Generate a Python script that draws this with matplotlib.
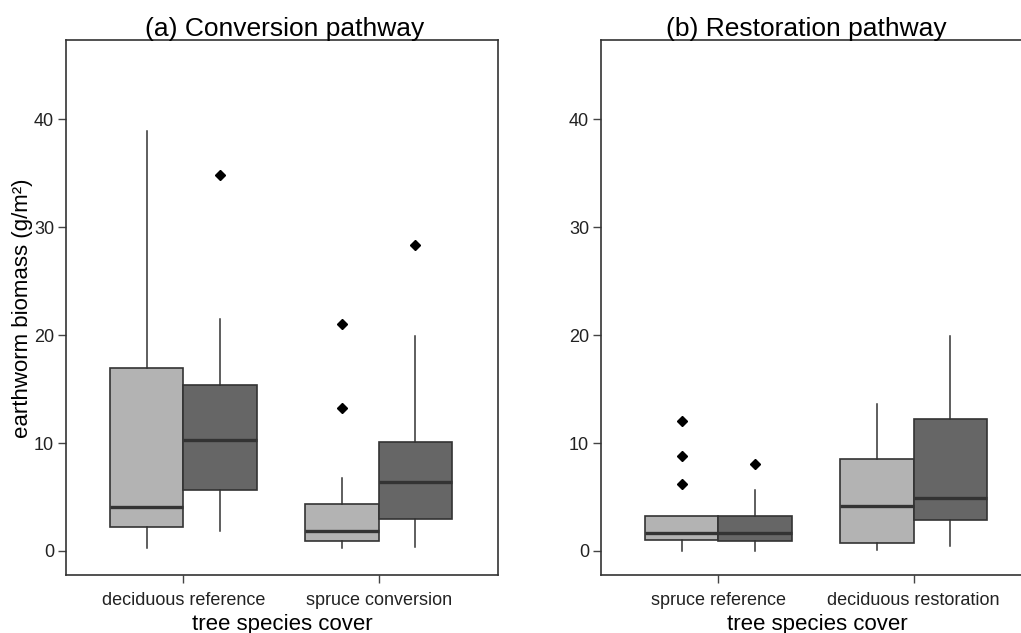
import matplotlib
matplotlib.use("Agg")
import matplotlib.pyplot as plt

plt.rcParams['font.family'] = ['Liberation Sans', 'DejaVu Sans']

# box statistics, order per panel: group1 light, group1 dark, group2 light, group2 dark
a_groups = ["deciduous reference", "spruce conversion"]
a_low = [0.3, 1.87, 0.3, 0.37]
a_q1 = [2.24, 5.68, 0.93, 2.99]
a_med = [4.07, 10.27, 1.83, 6.39]
a_q3 = [16.99, 15.4, 4.37, 10.05]
a_high = [38.9, 21.5, 6.72, 19.9]
a_fliers = [[], [34.8], [21.0, 13.2], [28.3]]

b_groups = ["spruce reference", "deciduous restoration"]
b_low = [0.04, 0.04, 0.07, 0.49]
b_q1 = [1.0, 0.9, 0.75, 2.84]
b_med = [1.64, 1.68, 4.18, 4.93]
b_q3 = [3.25, 3.25, 8.55, 12.2]
b_high = [3.25, 5.68, 13.63, 19.87]
b_fliers = [[12.07, 8.82, 6.24], [8.03], [], []]

fills = ['#b3b3b3', '#666666']
edge = '#333333'


def draw_panel(ax, groups, low, q1, med, q3, high, fliers, title, title_x):
    stats = []
    for i in range(4):
        stats.append(dict(whislo=low[i], q1=q1[i], med=med[i], q3=q3[i],
                          whishi=high[i], fliers=fliers[i]))
    pos = [1 - 0.1875, 1 + 0.1875, 2 - 0.1875, 2 + 0.1875]
    bp = ax.bxp(stats, positions=pos, widths=0.375, showcaps=False,
                patch_artist=True, manage_ticks=False,
                boxprops=dict(edgecolor=edge, linewidth=1.2),
                whiskerprops=dict(color=edge, linewidth=1.1),
                medianprops=dict(color=edge, linewidth=2.4, solid_capstyle='butt'),
                flierprops=dict(marker='D', markersize=5.5, markerfacecolor='black',
                                markeredgecolor='black'))
    for i, box in enumerate(bp['boxes']):
        box.set_facecolor(fills[i % 2])
    ax.set_xlim(0.4, 2.61)
    ax.set_ylim(-2.25, 47.3)
    ax.set_xticks([1, 2])
    ax.set_xticklabels(groups)
    ax.set_yticks([0, 10, 20, 30, 40])
    ax.tick_params(axis='both', length=5.5, width=1, color='#444444',
                   labelcolor='#222222', labelsize=13)
    ax.tick_params(axis='y', pad=3)
    ax.tick_params(axis='x', pad=6.5)
    for s in ax.spines.values():
        s.set_color('#333333')
        s.set_linewidth(1.2)
    ax.set_xlabel('tree species cover', fontsize=16, labelpad=3.5)
    ax.text(title_x, 1.009, title, transform=ax.transAxes, ha='center',
            va='baseline', fontsize=19)


fig = plt.figure(figsize=(10.21, 6.33), dpi=100)
ax1 = fig.add_axes([0.0646, 0.0912, 0.4231, 0.845])
ax2 = fig.add_axes([0.5886, 0.0912, 0.4231, 0.845])

draw_panel(ax1, a_groups, a_low, a_q1, a_med, a_q3, a_high, a_fliers,
           '(a) Conversion pathway', 0.507)
draw_panel(ax2, b_groups, b_low, b_q1, b_med, b_q3, b_high, b_fliers,
           '(b) Restoration pathway', 0.4745)
ax1.set_ylabel('earthworm biomass (g/m²)', fontsize=16, labelpad=1)

fig.savefig('out.png', dpi=100)
